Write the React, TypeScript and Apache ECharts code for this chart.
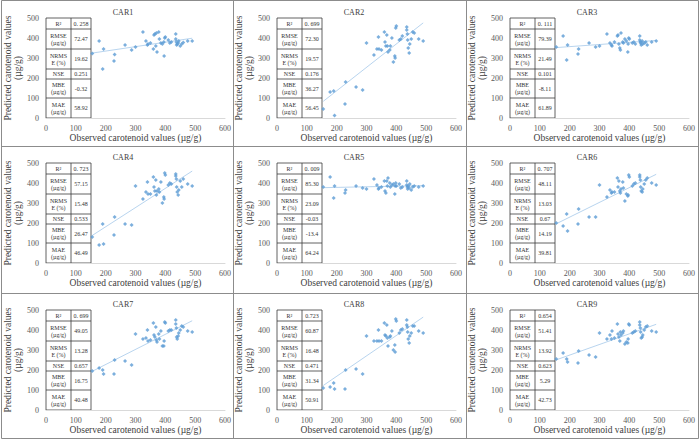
import React, { useEffect, useRef } from "react";
import * as echarts from "echarts";

const FONT = "'Liberation Serif', 'Times New Roman', serif";

const panelTitles = ["CAR1", "CAR2", "CAR3", "CAR4", "CAR5", "CAR6", "CAR7", "CAR8", "CAR9"];

// Observed carotenoid content of the samples (µg/g), shared by every model
const observed = [
  155, 178, 190, 193, 228, 230, 265, 287, 300, 325, 335, 340, 342, 350, 360, 362, 365, 368, 370, 372, 378, 380,
  385, 390, 395, 396, 398, 400, 410, 415, 420, 435, 435, 437, 438, 440, 443, 445, 450, 455, 460, 475, 490,
];

// Predicted carotenoid content for each model (µg/g), same sample order as `observed`
const car1 = [
  322, 385, 245, 345, 285, 318, 365, 340, 355, 430, 385, 365, 370, 375, 345, 415, 420, 360, 425, 330, 430, 395,
  375, 370, 380, 310, 400, 405, 390, 375, 380, 420, 395, 380, 365, 370, 375, 385, 360, 370, 378, 385, 385,
];
const car2 = [
  45, 130, 135, 12, 70, 180, 155, 140, 375, 315, 345, 405, 345, 340, 430, 380, 360, 415, 360, 330, 340, 360,
  400, 280, 310, 300, 450, 460, 390, 395, 410, 455, 440, 420, 390, 350, 325, 370, 395, 430, 425, 395, 385,
];
const car3 = [
  355, 410, 290, 365, 320, 345, 375, 355, 360, 420, 375, 365, 360, 380, 410, 415, 370, 350, 340, 425, 380, 375,
  395, 385, 330, 370, 400, 395, 375, 380, 370, 410, 390, 380, 375, 365, 385, 370, 375, 380, 365, 380, 385,
];
const car4 = [
  130, 90, 195, 95, 140, 230, 195, 190, 385, 320, 355, 405, 345, 345, 430, 380, 360, 415, 340, 360, 370, 355,
  405, 300, 330, 320, 450, 440, 390, 400, 395, 445, 435, 420, 380, 355, 340, 365, 410, 380, 420, 395, 385,
];
const car5 = [
  380, 430, 325, 385, 350, 365, 385, 375, 370, 420, 390, 370, 375, 380, 410, 360, 350, 410, 385, 425, 400, 380,
  390, 395, 345, 385, 400, 385, 395, 375, 380, 410, 390, 380, 370, 385, 375, 395, 365, 380, 385, 380, 385,
];
const car6 = [
  200, 185, 245, 160, 195, 270, 230, 230, 390, 330, 365, 350, 355, 355, 425, 380, 410, 360, 350, 370, 405, 375,
  310, 345, 335, 340, 440, 430, 385, 395, 400, 440, 430, 415, 380, 360, 355, 370, 395, 415, 425, 400, 390,
];
const car7 = [
  195, 210, 200, 180, 180, 250, 245, 225, 380, 355, 360, 400, 345, 350, 435, 375, 365, 415, 350, 340, 380, 355,
  395, 320, 320, 345, 440, 435, 395, 400, 400, 450, 430, 410, 365, 355, 370, 385, 400, 420, 415, 395, 390,
];
const car8 = [
  110, 115, 135, 105, 105, 200, 205, 180, 370, 345, 345, 400, 345, 345, 435, 375, 370, 425, 360, 320, 365, 370,
  395, 300, 325, 290, 455, 445, 385, 400, 405, 450, 425, 415, 390, 355, 335, 370, 385, 420, 420, 395, 385,
];
const car9 = [
  255, 285, 255, 240, 235, 295, 275, 265, 385, 355, 375, 355, 395, 360, 430, 380, 365, 345, 390, 375, 385, 395,
  330, 340, 335, 355, 430, 425, 385, 390, 395, 440, 425, 410, 390, 360, 365, 375, 400, 415, 420, 395, 390,
];
const predicted = [car1, car2, car3, car4, car5, car6, car7, car8, car9];

// Validation statistics shown in each panel's table
const metricNames = ["R²", "RMSE\n(µg/g)", "NRMS\nE (%)", "NSE", "MBE\n(µg/g)", "MAE\n(µg/g)"];
const r2Values = ["0. 258", "0. 699", "0. 111", "0. 723", "0. 009", "0. 707", "0. 699", "0.723", "0.654"];
const rmseValues = ["72.47", "72.30", "79.39", "57.15", "85.30", "48.11", "49.05", "60.87", "51.41"];
const nrmseValues = ["19.62", "19.57", "21.49", "15.48", "23.09", "13.03", "13.28", "16.48", "13.92"];
const nseValues = ["0.251", "0.176", "0.101", "0.533", "-0.03", "0.67", "0.657", "0.471", "0.623"];
const mbeValues = ["-0.32", "36.27", "-8.11", "26.47", "-13.4", "14.19", "16.75", "31.34", "5.29"];
const maeValues = ["58.92", "56.45", "61.89", "46.49", "64.24", "39.81", "40.48", "50.91", "42.73"];

// Panel layout (pixels)
const panelLeft = [2, 233, 466];
const panelTop = [1, 146, 293];
const panelW = 232;
const gridOffsetX = 44;
const gridOffsetY = 17;
const gridW = 179;
const gridH = 100;
const tableColW = [25, 20];
const tableRowH = [11, 20, 20, 10, 19, 20];

function linearFit(xs: number[], ys: number[]) {
  const n = xs.length;
  const mx = xs.reduce((a, b) => a + b, 0) / n;
  const my = ys.reduce((a, b) => a + b, 0) / n;
  let sxy = 0;
  let sxx = 0;
  for (let i = 0; i < n; i++) {
    sxy += (xs[i] - mx) * (ys[i] - my);
    sxx += (xs[i] - mx) * (xs[i] - mx);
  }
  const slope = sxy / sxx;
  return { slope, intercept: my - slope * mx };
}

function buildTable(i: number, x0: number, y0: number) {
  const values = [r2Values[i], rmseValues[i], nrmseValues[i], nseValues[i], mbeValues[i], maeValues[i]];
  const children: any[] = [];
  const totalW = tableColW[0] + tableColW[1];
  const totalH = tableRowH.reduce((a, b) => a + b, 0);
  const lineStyle = { stroke: "#3a3a3a", lineWidth: 0.8 };
  children.push({
    type: "rect",
    shape: { x: x0, y: y0, width: totalW, height: totalH },
    style: { fill: "#ffffff", ...lineStyle },
  });
  children.push({
    type: "line",
    shape: { x1: x0 + tableColW[0], y1: y0, x2: x0 + tableColW[0], y2: y0 + totalH },
    style: lineStyle,
  });
  let y = y0;
  tableRowH.forEach((h, r) => {
    if (r > 0) {
      children.push({
        type: "line",
        shape: { x1: x0, y1: y, x2: x0 + totalW, y2: y },
        style: lineStyle,
      });
    }
    children.push({
      type: "text",
      x: x0 + tableColW[0] / 2,
      y: y + h / 2,
      style: {
        text: metricNames[r],
        fontSize: 6,
        lineHeight: 7,
        fontFamily: FONT,
        fill: "#333333",
        align: "center",
        verticalAlign: "middle",
      },
    });
    children.push({
      type: "text",
      x: x0 + tableColW[0] + tableColW[1] / 2,
      y: y + h / 2,
      style: {
        text: values[r],
        fontSize: 6,
        fontFamily: FONT,
        fill: "#333333",
        align: "center",
        verticalAlign: "middle",
      },
    });
    y += h;
  });
  return children;
}

export default function App() {
  const ref = useRef<HTMLDivElement>(null);

  useEffect(() => {
    if (!ref.current) return;
    const chart = echarts.init(ref.current, undefined, { renderer: "svg" });

    const grids: any[] = [];
    const xAxes: any[] = [];
    const yAxes: any[] = [];
    const series: any[] = [];
    const titles: any[] = [];
    const graphics: any[] = [];

    for (let i = 0; i < 9; i++) {
      const col = i % 3;
      const row = Math.floor(i / 3);
      const gl = panelLeft[col] + gridOffsetX;
      const gt = panelTop[row] + gridOffsetY;
      grids.push({ left: gl, top: gt, width: gridW, height: gridH });
      titles.push({
        text: panelTitles[i],
        left: panelLeft[col] + panelW / 2,
        top: panelTop[row] + 2,
        textAlign: "center",
        textStyle: { fontSize: 8, fontWeight: "normal", fontFamily: FONT, color: "#404040" },
      });
      xAxes.push({
        gridIndex: i,
        type: "value",
        min: 0,
        max: 600,
        interval: 100,
        axisLine: { show: true, lineStyle: { color: "#d9d9d9", width: 1 } },
        axisTick: { show: false },
        splitLine: { show: false },
        axisLabel: { fontSize: 8, color: "#595959", fontFamily: FONT, margin: 6 },
        name: "Observed carotenoid values (µg/g)",
        nameLocation: "middle",
        nameGap: 15,
        nameTextStyle: { fontSize: 9.5, color: "#404040", fontFamily: FONT },
      });
      yAxes.push({
        gridIndex: i,
        type: "value",
        min: 0,
        max: 500,
        interval: 100,
        axisLine: { show: false },
        axisTick: { show: false },
        splitLine: { show: false },
        axisLabel: { fontSize: 8, color: "#595959", fontFamily: FONT, margin: 7 },
        name: "Predicted carotenoid values\n(µg/g)",
        nameLocation: "middle",
        nameGap: 18,
        nameRotate: 90,
        nameTextStyle: { fontSize: 9.5, color: "#404040", fontFamily: FONT, lineHeight: 10 },
      });

      const obs = observed;
      const pred = predicted[i];
      series.push({
        type: "scatter",
        xAxisIndex: i,
        yAxisIndex: i,
        symbol: "diamond",
        symbolSize: 4,
        itemStyle: { color: "#5b9bd5" },
        data: obs.map((x, k) => [x, pred[k]]),
        z: 3,
      });
      const fit = linearFit(obs, pred);
      const xMin = Math.min(...obs);
      const xMax = Math.max(...obs);
      series.push({
        type: "line",
        xAxisIndex: i,
        yAxisIndex: i,
        symbol: "none",
        lineStyle: { color: "#b0cfec", width: 0.9 },
        data: [
          [xMin, fit.intercept + fit.slope * xMin],
          [xMax, fit.intercept + fit.slope * xMax],
        ],
        z: 2,
      });

      graphics.push(...buildTable(i, gl, gt));
    }

    // Panel frames
    const frame = { stroke: "#8c8c8c", lineWidth: 1 };
    graphics.push({
      type: "rect",
      shape: { x: 1.5, y: 0.5, width: 697, height: 438 },
      style: { fill: "none", ...frame },
    });
    [233, 466].forEach((x) =>
      graphics.push({ type: "line", shape: { x1: x + 0.5, y1: 0.5, x2: x + 0.5, y2: 438.5 }, style: frame })
    );
    [146, 293].forEach((y) =>
      graphics.push({ type: "line", shape: { x1: 1.5, y1: y + 0.5, x2: 698.5, y2: y + 0.5 }, style: frame })
    );

    chart.setOption({
      animation: false,
      backgroundColor: "#ffffff",
      title: titles,
      grid: grids,
      xAxis: xAxes,
      yAxis: yAxes,
      series,
      graphic: { elements: graphics },
    });

    return () => chart.dispose();
  }, []);

  return (
    <div
      ref={ref}
      style={{ position: "absolute", left: 0, top: 0, width: 700, height: 440, background: "#ffffff" }}
    />
  );
}
